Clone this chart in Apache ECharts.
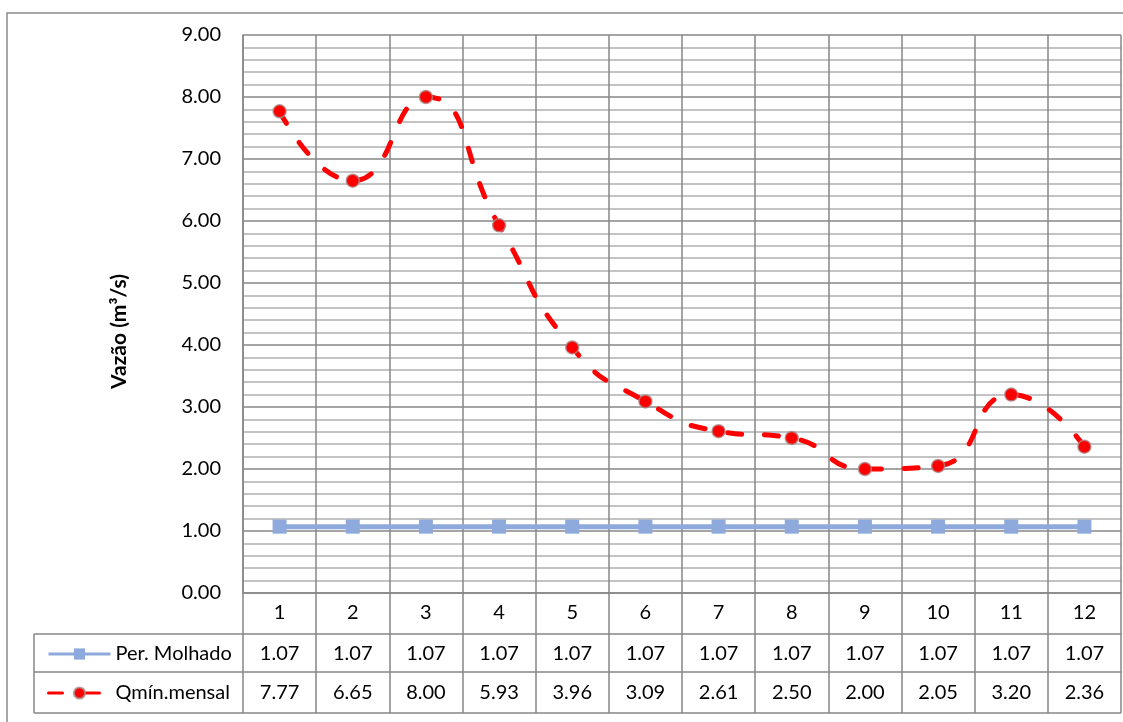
<!DOCTYPE html>
<html>
<head>
<meta charset="utf-8">
<script src="https://cdn.jsdelivr.net/npm/echarts@6/dist/echarts.min.js"></script>
<style>html,body{margin:0;padding:0;background:#fff}#c{width:1123px;height:722px}</style>
</head>
<body>
<div id="c"></div>
<script>
const categories = ['1','2','3','4','5','6','7','8','9','10','11','12'];
const perMolhado = [1.07,1.07,1.07,1.07,1.07,1.07,1.07,1.07,1.07,1.07,1.07,1.07];
const qminMensal = [7.77,6.65,8.00,5.93,3.96,3.09,2.61,2.50,2.00,2.05,3.20,2.36];
const seriesNames = ['Per. Molhado','Qmín.mensal'];
const yTitle = 'Vazão (m³/s)';

const FONT = 'Lato, "Open Sans", sans-serif';
const FS = 20;
const GL = 243, GR = 1121, GT = 35, GB = 593;
const R1 = 634, R2 = 672, R3 = 713, TL = 34;
const dark = '#878787', light = '#c3c3c3';

const chart = echarts.init(document.getElementById('c'), null, {renderer:'canvas'});
function rowAxis(idx, offset, height, vals, margin) {
  return {
    type:'category', gridIndex:0, position:'bottom', offset:offset, data:categories,
    boundaryGap:true,
    axisLine:{show:true, lineStyle:{color:dark, width:1.5}},
    axisTick:{show:true, length:height, lineStyle:{color:dark, width:1.5}},
    axisLabel:{show:true, margin:margin, fontSize:FS, color:'#000', fontFamily:FONT,
      formatter:function(v,i){ return vals ? vals[i].toFixed(2) : v; }},
    splitLine:{show: idx===0, lineStyle:{color:dark, width:1.5}}
  };
}
chart.setOption({
  animation:false,
  grid:{left:GL, right:1123-GR, top:GT, bottom:722-GB, containLabel:false},
  xAxis:[
    rowAxis(0, 0, R1-GB, null, 10),
    rowAxis(1, R1-GB, R2-R1, perMolhado, 10),
    rowAxis(2, R2-GB, R3-R2, qminMensal, 11)
  ],
  yAxis:{
    type:'value', min:0, max:9, interval:1,
    name:yTitle, nameLocation:'middle', nameRotate:90, nameGap:113,
    nameTextStyle:{fontSize:21, fontWeight:'bold', color:'#000', fontFamily:FONT, padding:[0,35,0,0]},
    axisLine:{show:true, lineStyle:{color:dark, width:1.5}},
    axisTick:{show:false},
    axisLabel:{margin:22, fontSize:FS, color:'#000', fontFamily:FONT,
      formatter:function(v){return v.toFixed(2);}},
    splitLine:{show:true, lineStyle:{color:dark, width:1.5}},
    minorTick:{show:false, splitNumber:5},
    minorSplitLine:{show:true, lineStyle:{color:light, width:2}}
  },
  legend:{
    orient:'vertical', left:42, top:639, itemWidth:62, itemHeight:14, itemGap:19,
    textStyle:{fontSize:FS, color:'#000', fontFamily:FONT},
    lineStyle:{width:3},
    data:seriesNames
  },
  series:[
    {name:seriesNames[0], type:'line', data:perMolhado, symbol:'rect', symbolSize:14,
     color:'#8EA9DB', lineStyle:{width:5, color:'#8EA9DB'}, itemStyle:{color:'#8EA9DB'}, z:3},
    {name:seriesNames[1], type:'line', data:qminMensal, smooth:0.55, symbol:'circle', symbolSize:13,
     color:'#FF0000',
     lineStyle:{width:5, color:'#FF0000', type:[14,23], cap:'round'},
     itemStyle:{color:'#FF0000', borderColor:'rgba(170,140,140,0.8)', borderWidth:1.5}, z:4}
  ],
  graphic:[
    {type:'rect', shape:{x:7,y:13,width:1130,height:720}, style:{fill:'none', stroke:'#8a8a8a', lineWidth:1.5}, silent:true},
    {type:'line', shape:{x1:TL,y1:R1,x2:GL,y2:R1}, style:{stroke:dark, lineWidth:1.5}},
    {type:'line', shape:{x1:TL,y1:R2,x2:GL,y2:R2}, style:{stroke:dark, lineWidth:1.5}},
    {type:'line', shape:{x1:TL,y1:R3,x2:GR,y2:R3}, style:{stroke:dark, lineWidth:1.5}},
    {type:'line', shape:{x1:TL,y1:R1,x2:TL,y2:R3}, style:{stroke:dark, lineWidth:1.5}}
  ]
});
</script>
</body>
</html>
